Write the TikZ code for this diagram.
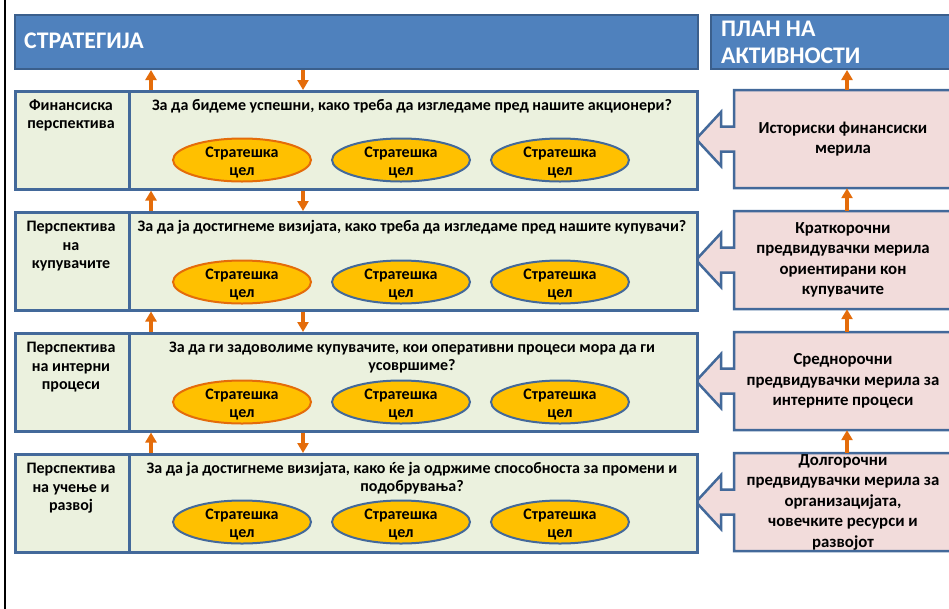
\documentclass[tikz,border=0pt]{standalone}
\usepackage{fontspec}
\setmainfont{Carlito}
\usetikzlibrary{arrows.meta,shapes.geometric}
\definecolor{hdrblue}{HTML}{4F81BD}
\definecolor{hdrborder}{HTML}{3B5F8C}
\definecolor{bordblue}{HTML}{43699A}
\definecolor{rowgreen}{HTML}{EBF1DE}
\definecolor{pinkfill}{HTML}{F2DCDB}
\definecolor{goalfill}{HTML}{FFC000}
\definecolor{orangec}{HTML}{E46C0A}
\newcommand{\hdrfont}{\fontsize{23.8}{27}\selectfont\bfseries}
\newcommand{\bodyfont}{\fontsize{16}{18.5}\selectfont\bfseries}
\newcommand{\goalfont}{\fontsize{16}{18}\selectfont\bfseries}
\newcommand{\pinkfont}{\fontsize{16.8}{20.5}\selectfont\bfseries}
\tikzset{
  hdr/.style={draw=hdrborder, line width=2pt, fill=hdrblue, anchor=north west, inner sep=0pt, minimum height=54pt},
  hdrtext/.style={text=white, font=\hdrfont, anchor=base west, align=left, inner sep=0pt},
  rowcell/.style={draw=bordblue, line width=2.5pt, fill=rowgreen, minimum height=98pt, anchor=north west, inner sep=0pt},
  lbltext/.style={font=\bodyfont, align=center, anchor=base, inner sep=0pt},
  qtext/.style={font=\bodyfont, align=center, anchor=base, inner sep=0pt},
  goal/.style={ellipse, draw=bordblue, line width=2pt, fill=goalfill, minimum width=138pt, minimum height=43pt, inner sep=0pt},
  goalo/.style={goal, draw=orangec},
  goaltext/.style={font=\goalfont, align=center, anchor=base, inner sep=0pt},
  callout/.style={draw=bordblue, line width=2.5pt, fill=pinkfill, line join=miter},
  pinkbox/.style={minimum width=218pt, minimum height=98pt, inner sep=0pt, align=center, font=\pinkfont},
  flowarrow/.style={draw=orangec, line width=3.5pt, -{Triangle[width=11pt,length=10pt,fill=orangec]}},
}
\begin{document}
\begin{tikzpicture}[x=1pt,y=-1pt]
\useasboundingbox (0,0) rectangle (949,608);
\clip (0,0) rectangle (949,608);
\fill[white] (0,0) rectangle (949,608);
% left frame line
\draw[black, line width=2pt] (5,-2) -- (5,610);

% headers
\node[hdr, minimum width=683pt] (strat) at (14,14) {};
\node[hdrtext] (strattxt) at (24,48) {СТРАТЕГИЈА};
\node[hdr, minimum width=260pt] (plan) at (710,14) {};
% base anchor of a multi-line node = baseline of its last line
\node[hdrtext] (plantxt) at (721,63) {ПЛАН НА\\АКТИВНОСТИ};

% callouts (pink boxes with arrow)
\foreach \t in {90,211,332,453} {
  \path[callout] (734,\t) -- (960,\t) -- (960,\t+98) -- (734,\t+98) -- (734,\t+61.5)
     -- (721,\t+61.5) -- (721,\t+76) -- (696,\t+49) -- (721,\t+22) -- (721,\t+36.5)
     -- (734,\t+36.5) -- cycle;
}

% rows
\node[rowcell, minimum width=114pt] (l1) at (14,90) {};
\node[rowcell, minimum width=568pt] (c1) at (128,90) {};
\node[rowcell, minimum width=114pt] (l2) at (14,211) {};
\node[rowcell, minimum width=568pt] (c2) at (128,211) {};
\node[rowcell, minimum width=114pt] (l3) at (14,332) {};
\node[rowcell, minimum width=568pt] (c3) at (128,332) {};
\node[rowcell, minimum width=114pt] (l4) at (14,453) {};
\node[rowcell, minimum width=568pt] (c4) at (128,453) {};

% labels (y = last baseline)
\node[lbltext] (lt1) at (71,128.5) {Финансиска\\перспектива};
\node[lbltext] (lt2) at (71,268.5) {Перспектива\\на\\купувачите};
\node[lbltext] (lt3) at (71,389.5) {Перспектива\\на интерни\\процеси};
\node[lbltext] (lt4) at (71,510.5) {Перспектива\\на учење и\\развој};

% questions
\node[qtext] (q1) at (412,110) {За да бидеме успешни, како треба да изгледаме пред нашите акционери?};
\node[qtext] (q2) at (412,231) {За да ја достигнеме визијата, како треба да изгледаме пред нашите купувачи?};
\node[qtext] (q3) at (412,370.5) {За да ги задоволиме купувачите, кои оперативни процеси мора да ги\\усовршиме?};
\node[qtext] (q4) at (412,491.5) {За да ја достигнеме визијата, како ќе ја одржиме способноста за промени и\\подобрувања?};

% goals
\foreach \r/\cy/\fs in {1/160/goalo,2/282/goalo,3/402/goalo,4/522/goal} {
  \node[\fs] (g\r1) at (242,\cy) {};
  \node[goal] (g\r2) at (401,\cy) {};
  \node[goal] (g\r3) at (560,\cy) {};
  \foreach \c/\cx in {1/242,2/401,3/560} {
    \node[goaltext] (gt\r\c) at (\cx,\cy+15) {Стратешка\\цел};
  }
}

% pink box texts
\node[pinkbox] (p1) at (843,139) {Историски финансиски\\мерила};
\node[pinkbox] (p2) at (843,260) {Краткорочни\\предвидувачки мерила\\ориентирани кон\\купувачите};
\node[pinkbox] (p3) at (843,381) {Среднорочни\\предвидувачки мерила за\\интерните процеси};
\node[pinkbox] (p4) at (843,502) {Долгорочни\\предвидувачки мерила за\\организацијата,\\човечките ресурси и\\развојот};

% arrow columns
\coordinate (ax) at (151,0);
\coordinate (bx) at (303,0);
\coordinate (cx) at (847,0);

\draw[flowarrow] (c1.north -| ax) -- (strat.south -| ax);
\draw[flowarrow] (strat.south -| bx) -- (c1.north -| bx);
\draw[flowarrow] (c2.north -| ax) -- (c1.south -| ax);
\draw[flowarrow] (c1.south -| bx) -- (c2.north -| bx);
\draw[flowarrow] (c3.north -| ax) -- (c2.south -| ax);
\draw[flowarrow] (c2.south -| bx) -- (c3.north -| bx);
\draw[flowarrow] (c4.north -| ax) -- (c3.south -| ax);
\draw[flowarrow] (c3.south -| bx) -- (c4.north -| bx);

\draw[flowarrow] (p1.north -| cx) -- (plan.south -| cx);
\draw[flowarrow] (p2.north -| cx) -- (p1.south -| cx);
\draw[flowarrow] (p3.north -| cx) -- (p2.south -| cx);
\draw[flowarrow] (p4.north -| cx) -- (p3.south -| cx);
\end{tikzpicture}
\end{document}
